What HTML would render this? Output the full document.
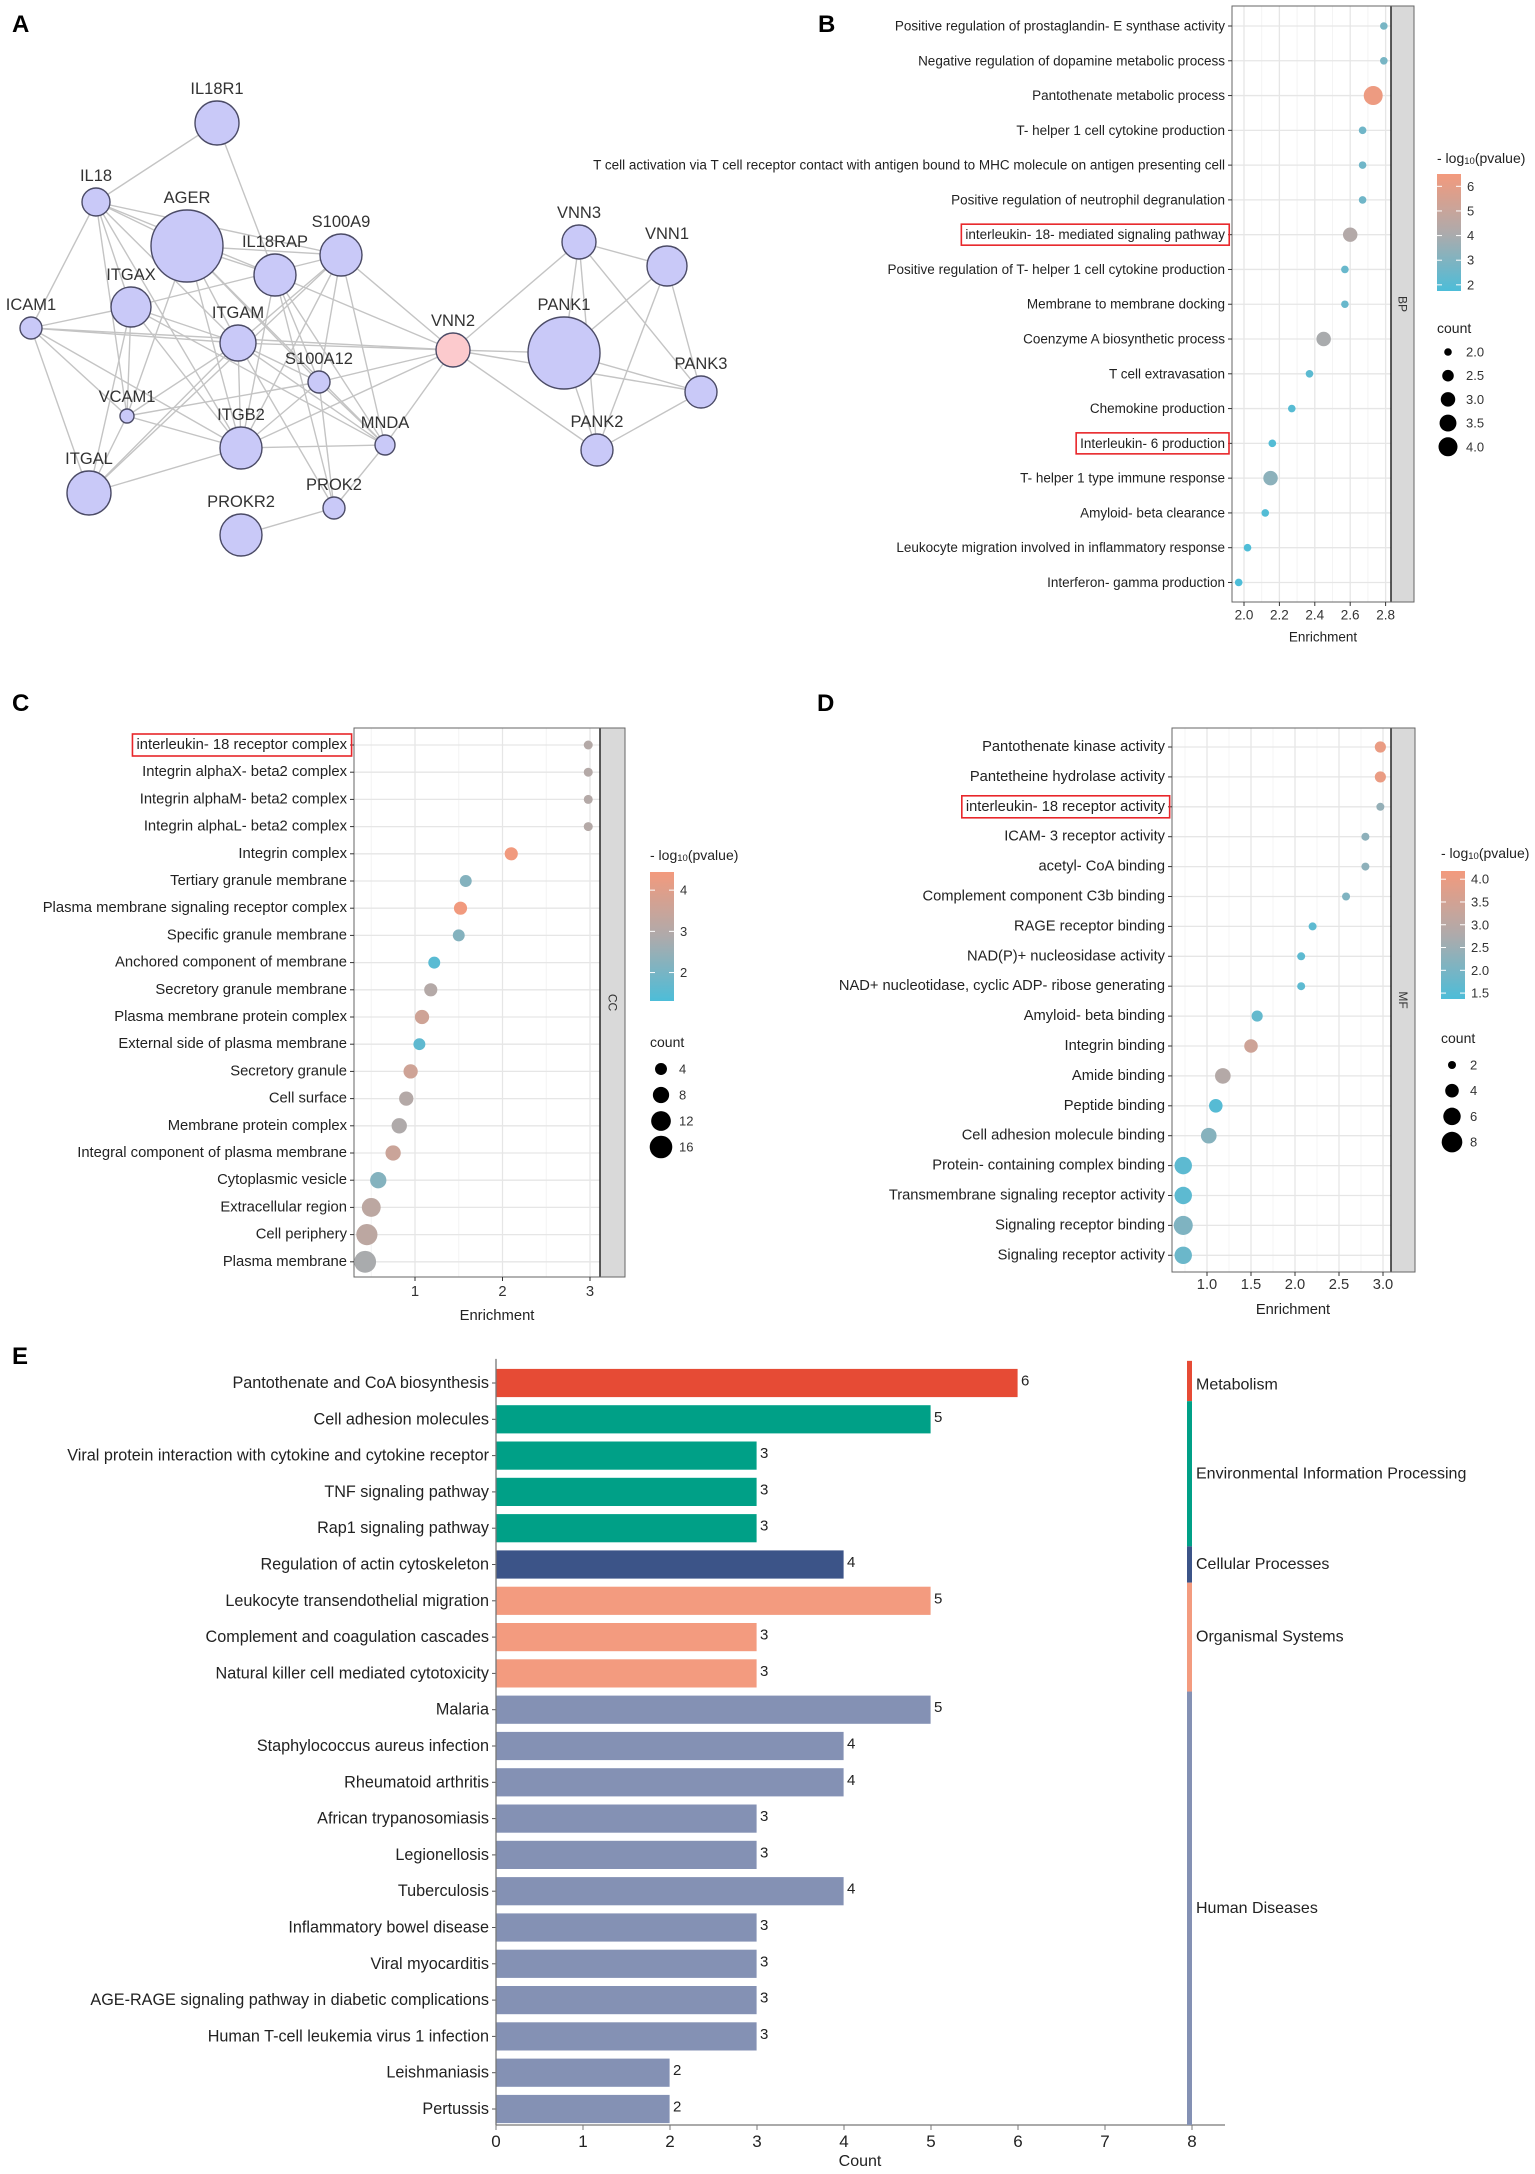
<!DOCTYPE html>
<html><head><meta charset="utf-8"><style>
html,body{margin:0;padding:0;background:#fff;}
svg{display:block;font-family:"Liberation Sans",Arial,sans-serif;}
</style></head><body>
<svg id="fig" width="1535" height="2174" viewBox="0 0 1535 2174" xmlns="http://www.w3.org/2000/svg">
<rect x="0" y="0" width="1535" height="2174" fill="#fff"/>
<g id="gA"></g>
<g id="gB"></g>
<g id="gC"></g>
<g id="gD"></g>
<g id="gE"></g>
<text x="12" y="32" font-size="24" font-weight="bold">A</text>
<text x="818" y="32" font-size="24" font-weight="bold">B</text>
<text x="12" y="711" font-size="24" font-weight="bold">C</text>
<text x="817" y="711" font-size="24" font-weight="bold">D</text>
<text x="12" y="1364" font-size="24" font-weight="bold">E</text>
</svg>
<script>
// ---------- Panel A data ----------
const netNodes = ["IL18R1","IL18","AGER","IL18RAP","S100A9","ITGAX","ICAM1","ITGAM","S100A12","VCAM1","ITGB2","MNDA","ITGAL","PROK2","PROKR2","VNN2","VNN3","VNN1","PANK1","PANK3","PANK2"];
const netX = [217,96,187,275,341,131,31,238,319,127,241,385,89,334,241,453,579,667,564,701,597];
const netY = [123,202,246,275,255,307,328,343,382,416,448,445,493,508,535,350,242,266,353,392,450];
const netR = [22,14,36,21,21,20,11,18,11,7,21,10,22,11,21,17,17,20,36,16,16];
const netEdges = [
["IL18R1","IL18"],["IL18R1","IL18RAP"],
["IL18","AGER"],["IL18","IL18RAP"],["IL18","ICAM1"],["IL18","VCAM1"],["IL18","ITGAX"],["IL18","ITGB2"],["IL18","ITGAM"],["IL18","S100A9"],
["AGER","S100A9"],["AGER","ITGAM"],["AGER","ITGB2"],["AGER","VCAM1"],["AGER","S100A12"],["AGER","MNDA"],["AGER","IL18RAP"],
["IL18RAP","VNN2"],["IL18RAP","ITGB2"],["IL18RAP","S100A12"],["IL18RAP","MNDA"],["IL18RAP","PROK2"],
["S100A9","ITGAX"],["S100A9","ITGAM"],["S100A9","S100A12"],["S100A9","ITGB2"],["S100A9","MNDA"],["S100A9","VNN2"],["S100A9","ITGAL"],
["ICAM1","ITGAX"],["ICAM1","ITGAM"],["ICAM1","ITGB2"],["ICAM1","VCAM1"],["ICAM1","ITGAL"],["ICAM1","VNN2"],
["ITGAX","ITGAM"],["ITGAX","ITGB2"],["ITGAX","VCAM1"],["ITGAX","ITGAL"],["ITGAX","MNDA"],
["ITGAM","ITGB2"],["ITGAM","S100A12"],["ITGAM","VNN2"],["ITGAM","MNDA"],["ITGAM","VCAM1"],["ITGAM","ITGAL"],["ITGAM","PROK2"],
["S100A12","VCAM1"],["S100A12","ITGB2"],["S100A12","VNN2"],["S100A12","MNDA"],["S100A12","PROK2"],
["VCAM1","ITGB2"],["VCAM1","ITGAL"],["ITGB2","MNDA"],["ITGB2","ITGAL"],["ITGB2","VNN2"],
["MNDA","VNN2"],["MNDA","PROK2"],["PROK2","PROKR2"],
["VNN2","PANK1"],["VNN2","VNN3"],["VNN2","PANK2"],["VNN2","PANK3"],
["VNN3","VNN1"],["VNN3","PANK1"],["VNN3","PANK2"],["VNN3","PANK3"],
["VNN1","PANK1"],["VNN1","PANK2"],["VNN1","PANK3"],["PANK1","PANK3"],["PANK1","PANK2"],["PANK2","PANK3"]];

// ---------- Panel B data ----------
const bTerms = ["Positive regulation of prostaglandin- E synthase activity","Negative regulation of dopamine metabolic process","Pantothenate metabolic process","T- helper 1 cell cytokine production","T cell activation via T cell receptor contact with antigen bound to MHC molecule on antigen presenting cell","Positive regulation of neutrophil degranulation","interleukin- 18- mediated signaling pathway","Positive regulation of T- helper 1 cell cytokine production","Membrane to membrane docking","Coenzyme A biosynthetic process","T cell extravasation","Chemokine production","Interleukin- 6 production","T- helper 1 type immune response","Amyloid- beta clearance","Leukocyte migration involved in inflammatory response","Interferon- gamma production"];
const bEnrich = [2.79,2.79,2.73,2.67,2.67,2.67,2.60,2.57,2.57,2.45,2.37,2.27,2.16,2.15,2.12,2.02,1.97];
const bCount = [2,2,4,2,2,2,3,2,2,3,2,2,2,3,2,2,2];
const bLogp = [2.8,2.8,6.3,2.6,2.6,2.6,4.3,2.4,2.4,4.0,2.1,2.0,1.9,3.3,1.9,1.8,1.7];
const bXTicks = [2.0,2.2,2.4,2.6,2.8];
const bColorTicks = [2,3,4,5,6];
const bCountTicks = [2.0,2.5,3.0,3.5,4.0];
const bHighlight = [6,12];

// ---------- Panel C data ----------
const cTerms = ["interleukin- 18 receptor complex","Integrin alphaX- beta2 complex","Integrin alphaM- beta2 complex","Integrin alphaL- beta2 complex","Integrin complex","Tertiary granule membrane","Plasma membrane signaling receptor complex","Specific granule membrane","Anchored component of membrane","Secretory granule membrane","Plasma membrane protein complex","External side of plasma membrane","Secretory granule","Cell surface","Membrane protein complex","Integral component of plasma membrane","Cytoplasmic vesicle","Extracellular region","Cell periphery","Plasma membrane"];
const cEnrich = [2.98,2.98,2.98,2.98,2.10,1.58,1.52,1.50,1.22,1.18,1.08,1.05,0.95,0.90,0.82,0.75,0.58,0.50,0.45,0.43];
const cCount = [2,2,2,2,5,4,5,4,4,5,6,4,6,6,7,7,8,11,14,15];
const cLogp = [3.0,3.0,3.0,3.0,4.4,2.2,4.4,2.2,1.5,3.0,3.6,1.6,3.6,3.0,2.9,3.5,2.2,3.2,3.2,2.8];
const cXTicks = [1,2,3];
const cColorTicks = [2,3,4];
const cCountTicks = [4,8,12,16];
const cHighlight = [0];

// ---------- Panel D data ----------
const dTerms = ["Pantothenate kinase activity","Pantetheine hydrolase activity","interleukin- 18 receptor activity","ICAM- 3 receptor activity","acetyl- CoA binding","Complement component C3b binding","RAGE receptor binding","NAD(P)+ nucleosidase activity","NAD+ nucleotidase, cyclic ADP- ribose generating","Amyloid- beta binding","Integrin binding","Amide binding","Peptide binding","Cell adhesion molecule binding","Protein- containing complex binding","Transmembrane signaling receptor activity","Signaling receptor binding","Signaling receptor activity"];
const dEnrich = [2.97,2.97,2.97,2.80,2.80,2.58,2.20,2.07,2.07,1.57,1.50,1.18,1.10,1.02,0.73,0.73,0.73,0.73];
const dCount = [3,3,2,2,2,2,2,2,2,3,4,5,4,5,6,6,7,6];
const dLogp = [4.0,4.0,2.4,2.3,2.3,2.1,1.6,1.6,1.6,1.7,3.4,2.9,1.5,2.2,1.6,1.6,2.1,1.8];
const dXTicks = [1.0,1.5,2.0,2.5,3.0];
const dColorTicks = [1.5,2.0,2.5,3.0,3.5,4.0];
const dCountTicks = [2,4,6,8];
const dHighlight = [2];

// ---------- Panel E data ----------
const eTerms = ["Pantothenate and CoA biosynthesis","Cell adhesion molecules","Viral protein interaction with cytokine and cytokine receptor","TNF signaling pathway","Rap1 signaling pathway","Regulation of actin cytoskeleton","Leukocyte transendothelial migration","Complement and coagulation cascades","Natural killer cell mediated cytotoxicity","Malaria","Staphylococcus aureus infection","Rheumatoid arthritis","African trypanosomiasis","Legionellosis","Tuberculosis","Inflammatory bowel disease","Viral myocarditis","AGE-RAGE signaling pathway in diabetic complications","Human T-cell leukemia virus 1 infection","Leishmaniasis","Pertussis"];
const eCounts = [6,5,3,3,3,4,5,3,3,5,4,4,3,3,4,3,3,3,3,2,2];
const eCats = ["Metabolism","Environmental Information Processing","Environmental Information Processing","Environmental Information Processing","Environmental Information Processing","Cellular Processes","Organismal Systems","Organismal Systems","Organismal Systems","Human Diseases","Human Diseases","Human Diseases","Human Diseases","Human Diseases","Human Diseases","Human Diseases","Human Diseases","Human Diseases","Human Diseases","Human Diseases","Human Diseases"];
const eCatNames = ["Metabolism","Environmental Information Processing","Cellular Processes","Organismal Systems","Human Diseases"];
const eXTicks = [0,1,2,3,4,5,6,7,8];

const NS = "http://www.w3.org/2000/svg";
function mk(parent, tag, attrs, text){
  const e = document.createElementNS(NS, tag);
  for (const k in attrs) e.setAttribute(k, attrs[k]);
  if (text !== undefined) e.textContent = text;
  parent.appendChild(e);
  return e;
}
function slug(s){return s.toLowerCase().replace(/[^a-z0-9]+/g,'-').replace(/^-|-$/g,'').slice(0,40);}

// ---------- draw network ----------
(function(){
  const g = document.getElementById('gA');
  const idx = n => netNodes.indexOf(n);
  netEdges.forEach(ed=>{
    const a = idx(ed[0]), b = idx(ed[1]);
    const l = mk(g,'line',{x1:netX[a],y1:netY[a],x2:netX[b],y2:netY[b],stroke:'#c4c4c4','stroke-width':1.4});
    
    
  });
  netNodes.forEach((n,i)=>{
    const c = mk(g,'circle',{cx:netX[i],cy:netY[i],r:netR[i],fill:n==='VNN2'?'#fccacd':'#c9c9f8',stroke:'#4b4b66','stroke-width':1.4});
    
    
    const t = mk(g,'text',{x:netX[i],y:netY[i]-netR[i]-7,'text-anchor':'middle','font-size':16.5,fill:'#333'},n);
    
    
  });
})();

// ---------- color scale ----------
function hex2rgb(h){return [parseInt(h.slice(1,3),16),parseInt(h.slice(3,5),16),parseInt(h.slice(5,7),16)];}
const cLow = hex2rgb('#4dbdd8'), cMid = hex2rgb('#aeaaab'), cHigh = hex2rgb('#f39a7d');
function colorAt(t){
  t = Math.max(0,Math.min(1,t));
  let a,b,u;
  if (t<0.5){a=cLow;b=cMid;u=t/0.5;} else {a=cMid;b=cHigh;u=(t-0.5)/0.5;}
  const r = a.map((v,i)=>Math.round(v+(b[i]-v)*u));
  return 'rgb('+r.join(',')+')';
}

// ---------- dot plot ----------
function dotPlot(gid, terms, enrich, count, logp, xTicks, colorTicks, countTicks, highlight, cfg){
  const g = document.getElementById(gid);
  const xs = v => cfg.xPix0 + (v - cfg.xVal0)*cfg.xPer;
  const vLeft = cfg.xVal0 + (cfg.px0 - cfg.xPix0)/cfg.xPer;
  const vRight = cfg.xVal0 + (cfg.px1 - cfg.xPix0)/cfg.xPer;
  const ys = i => cfg.rowY0 + i*cfg.rowStep;
  const rs = c => Math.sqrt(cfg.rmin*cfg.rmin + (cfg.rmax*cfg.rmax - cfg.rmin*cfg.rmin)*(c - cfg.cmin)/(cfg.cmax - cfg.cmin));
  const cs = p => colorAt((p - cfg.pmin)/(cfg.pmax - cfg.pmin));
  const bg = mk(g,'rect',{x:cfg.px0,y:cfg.py0,width:cfg.px1-cfg.px0,height:cfg.py1-cfg.py0,fill:'#fff'});
   
  const step = xTicks[1]-xTicks[0];
  for (let v = xTicks[0]-step*2; v <= xTicks[xTicks.length-1]+step*2; v += step){
    const m = v + step/2;
    if (m>vLeft && m<vRight){
      const l = mk(g,'line',{x1:xs(m),x2:xs(m),y1:cfg.py0,y2:cfg.py1,stroke:'#f4f4f4','stroke-width':1});
       
    }
  }
  xTicks.forEach(v=>{
    const l = mk(g,'line',{x1:xs(v),x2:xs(v),y1:cfg.py0,y2:cfg.py1,stroke:'#e6e6e6','stroke-width':1.3});
     
  });
  terms.forEach((t,i)=>{
    const l = mk(g,'line',{x1:cfg.px0,x2:cfg.px1,y1:ys(i),y2:ys(i),stroke:'#e6e6e6','stroke-width':1.3});
     
  });
  const st = mk(g,'rect',{x:cfg.px1,y:cfg.py0,width:cfg.stripX1-cfg.px1,height:cfg.py1-cfg.py0,fill:'#d9d9d9',stroke:'#555','stroke-width':1});
   
  const sl = mk(g,'line',{x1:cfg.px1,x2:cfg.px1,y1:cfg.py0,y2:cfg.py1,stroke:'#333','stroke-width':1.6});
   
  const mx = (cfg.px1+cfg.stripX1)/2, my = (cfg.py0+cfg.py1)/2;
  const stt = mk(g,'text',{x:mx,y:my,'font-size':12,fill:'#333','text-anchor':'middle','dominant-baseline':'central',transform:'rotate(90 '+mx+' '+my+')'},cfg.strip);
   
  const br = mk(g,'rect',{x:cfg.px0,y:cfg.py0,width:cfg.stripX1-cfg.px0,height:cfg.py1-cfg.py0,fill:'none',stroke:'#666','stroke-width':1});
   
  terms.forEach((t,i)=>{
    const tk = mk(g,'line',{x1:cfg.px0-4,x2:cfg.px0,y1:ys(i),y2:ys(i),stroke:'#333','stroke-width':1});
     
    const tx = mk(g,'text',{x:cfg.px0-7,y:ys(i),'font-size':cfg.fs,fill:'#222','text-anchor':'end','dominant-baseline':'central'},t);
    
    
    if (highlight.indexOf(i)>=0){
      const bb = tx.getBBox();
      const hb = mk(g,'rect',{x:bb.x-4,y:bb.y-3,width:bb.width+8,height:bb.height+6,fill:'none',stroke:'#e8262a','stroke-width':1.6});
      
      
    }
  });
  xTicks.forEach(v=>{
    const tk = mk(g,'line',{x1:xs(v),x2:xs(v),y1:cfg.py1,y2:cfg.py1+4,stroke:'#333','stroke-width':1});
     
    const tx = mk(g,'text',{x:xs(v),y:cfg.tickY,'font-size':cfg.fs,fill:'#333','text-anchor':'middle','dominant-baseline':'central'},cfg.tickFmt(v));
     
  });
  const xt = mk(g,'text',{x:cfg.xTitleX,y:cfg.xTitleY,'font-size':cfg.fs,fill:'#222','text-anchor':'middle','dominant-baseline':'central'},'Enrichment');
   
  terms.forEach((t,i)=>{
    const c = mk(g,'circle',{cx:xs(enrich[i]),cy:ys(i),r:rs(count[i]),fill:cs(logp[i])});
    
    
  });
  const L = cfg.leg;
  const lt = mk(g,'text',{x:L.x,y:L.titleY,'font-size':14,fill:'#222','dominant-baseline':'central'});
   
  lt.innerHTML = '- log<tspan font-size="9.5" dy="3">10</tspan><tspan dy="-3">(pvalue)</tspan>';
  const gid2 = 'grad'+gid;
  const defs = mk(g,'defs',{});
  const lg = mk(defs,'linearGradient',{id:gid2,x1:0,y1:1,x2:0,y2:0});
  for (let k=0;k<=10;k++){ mk(lg,'stop',{offset:(k/10),'stop-color':colorAt(k/10)}); }
  const cb = mk(g,'rect',{x:L.x,y:L.barY0,width:24,height:L.barY1-L.barY0,fill:'url(#'+gid2+')'});
   
  const py = p => L.barY1 - (p - cfg.pmin)/(cfg.pmax - cfg.pmin)*(L.barY1 - L.barY0);
  colorTicks.forEach(p=>{
    mk(g,'line',{x1:L.x,x2:L.x+5,y1:py(p),y2:py(p),stroke:'#fff','stroke-width':1});
    mk(g,'line',{x1:L.x+19,x2:L.x+24,y1:py(p),y2:py(p),stroke:'#fff','stroke-width':1});
    const tx = mk(g,'text',{x:L.x+30,y:py(p),'font-size':13,fill:'#333','dominant-baseline':'central'},cfg.cbFmt(p));
     
  });
  const ct = mk(g,'text',{x:L.x,y:L.countTitleY,'font-size':14,fill:'#222','dominant-baseline':'central'},'count');
   
  countTicks.forEach((c,k)=>{
    const yy = L.countY0 + k*L.countStep;
    const d = mk(g,'circle',{cx:L.x+11,cy:yy,r:rs(c),fill:'#000'});
     
    const tx = mk(g,'text',{x:L.x+29,y:yy,'font-size':13,fill:'#333','dominant-baseline':'central'},cfg.cntFmt(c));
     
  });
}

dotPlot('gB',bTerms,bEnrich,bCount,bLogp,bXTicks,bColorTicks,bCountTicks,bHighlight,{
  px0:1232,px1:1391,stripX1:1414,py0:6,py1:602,rowY0:26,rowStep:34.78,
  xPix0:1244,xVal0:2.0,xPer:177,fs:13.5,strip:'BP',tickY:615,xTitleX:1323,xTitleY:637,
  rmin:3.8,rmax:9.5,cmin:2,cmax:4,pmin:1.75,pmax:6.5,
  tickFmt:v=>v.toFixed(1),cbFmt:p=>String(p),cntFmt:c=>c.toFixed(1),
  leg:{x:1437,titleY:158,barY0:174,barY1:291,countTitleY:328,countY0:352,countStep:23.7}
});
dotPlot('gC',cTerms,cEnrich,cCount,cLogp,cXTicks,cColorTicks,cCountTicks,cHighlight,{
  px0:354,px1:600,stripX1:625,py0:728,py1:1277,rowY0:745,rowStep:27.2,
  xPix0:415,xVal0:1,xPer:87.5,fs:14.8,strip:'CC',tickY:1292,xTitleX:497,xTitleY:1316,
  rmin:4.5,rmax:11.3,cmin:2,cmax:16,pmin:1.31,pmax:4.44,
  tickFmt:v=>String(v),cbFmt:p=>String(p),cntFmt:c=>String(c),
  leg:{x:650,titleY:855,barY0:872,barY1:1001,countTitleY:1042,countY0:1069,countStep:26}
});
dotPlot('gD',dTerms,dEnrich,dCount,dLogp,dXTicks,dColorTicks,dCountTicks,dHighlight,{
  px0:1172,px1:1391,stripX1:1415,py0:728,py1:1272,rowY0:747,rowStep:29.9,
  xPix0:1207,xVal0:1.0,xPer:88,fs:14.7,strip:'MF',tickY:1285,xTitleX:1293,xTitleY:1310,
  rmin:4,rmax:10.3,cmin:2,cmax:8,pmin:1.37,pmax:4.18,
  tickFmt:v=>v.toFixed(1),cbFmt:p=>p.toFixed(1),cntFmt:c=>String(c),
  leg:{x:1441,titleY:853,barY0:871,barY1:999,countTitleY:1038,countY0:1065,countStep:25.7}
});

// ---------- bar chart ----------
(function(){
  const g = document.getElementById('gE');
  const catColors = {"Metabolism":"#e64b35","Environmental Information Processing":"#00a087","Cellular Processes":"#3c5488","Organismal Systems":"#f39b7f","Human Diseases":"#8491b4"};
  const x0 = 496, per = 87, rowY0 = 1383, step = 36.3, bh = 29, axisY = 2125;
  const xs = v => x0 + v*per;
  const ys = i => rowY0 + i*step;
  eTerms.forEach((t,i)=>{
    const r = mk(g,'rect',{x:xs(0),y:ys(i)-bh/2,width:xs(eCounts[i])-xs(0),height:bh,fill:catColors[eCats[i]],stroke:'#fff','stroke-width':0.8});
    
    
    const v = mk(g,'text',{x:xs(eCounts[i])+3,y:ys(i)-2,'font-size':15,fill:'#222','dominant-baseline':'central'},String(eCounts[i]));
     
    const tk = mk(g,'line',{x1:x0-4,x2:x0,y1:ys(i),y2:ys(i),stroke:'#555','stroke-width':1});
     
    const tx = mk(g,'text',{x:x0-7,y:ys(i),'font-size':16.2,fill:'#222','text-anchor':'end','dominant-baseline':'central'},t);
    
    
  });
  const ya = mk(g,'line',{x1:x0,x2:x0,y1:ys(0)-step/2-6,y2:axisY,stroke:'#777','stroke-width':1.3});
   
  const xa = mk(g,'line',{x1:x0,x2:1225,y1:axisY,y2:axisY,stroke:'#777','stroke-width':1.3});
   
  eXTicks.forEach(v=>{
    const tk = mk(g,'line',{x1:xs(v),x2:xs(v),y1:axisY,y2:axisY+5,stroke:'#777','stroke-width':1});
     
    const tx = mk(g,'text',{x:xs(v),y:axisY+22,'font-size':17,fill:'#222','text-anchor':'middle'},String(v));
     
  });
  const xt = mk(g,'text',{x:860,y:2166,'font-size':16,fill:'#222','text-anchor':'middle'},'Count');
   
  eCatNames.forEach(cn=>{
    let first=-1,last=-1;
    eCats.forEach((c,i)=>{ if(c===cn){ if(first<0) first=i; last=i; } });
    const yT = ys(first)-step/2 + (first===0? -4:0), yB = (last===eCats.length-1)? axisY : ys(last)+step/2;
    const r = mk(g,'rect',{x:1187,y:yT,width:5,height:yB-yT,fill:catColors[cn]});
    
    
    const tx = mk(g,'text',{x:1196,y:(yT+yB)/2 + (first===0?4:0),'font-size':16,fill:'#222','dominant-baseline':'central'},cn);
    
    
  });
})();
</script>
</body></html>
